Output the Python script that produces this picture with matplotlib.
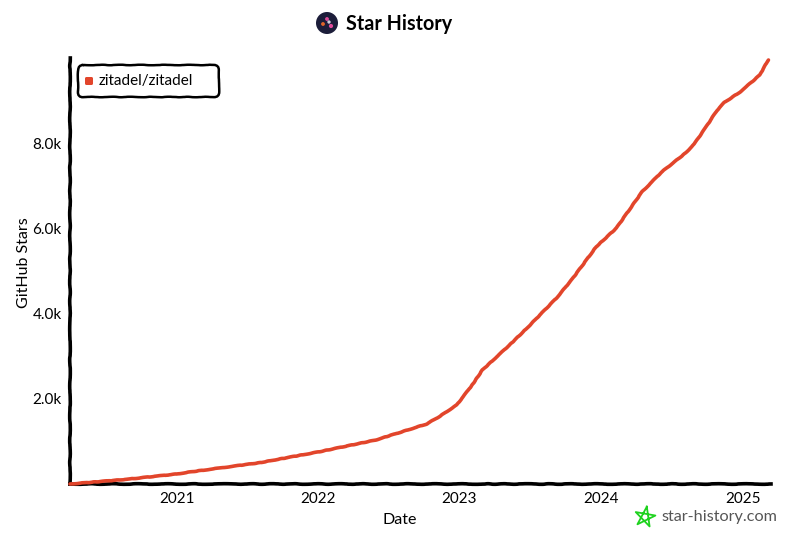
import matplotlib
matplotlib.use("Agg")
import matplotlib.pyplot as plt
import matplotlib.dates as mdates
import numpy as np
import pandas as pd
from matplotlib.patches import FancyBboxPatch, Circle

plt.rcParams['font.family'] = ['Lato', 'DejaVu Sans']

dates = ["2020-04-01", "2020-08-25", "2021-01-01", "2021-02-10", "2021-08-03", "2022-01-05",
         "2022-05-30", "2022-10-08", "2022-11-10", "2022-12-25", "2023-02-03", "2023-03-01",
         "2023-05-15", "2023-06-28", "2023-09-09", "2023-10-19", "2023-12-20", "2024-02-10",
         "2024-04-16", "2024-06-06", "2024-08-07", "2024-08-29", "2024-09-27", "2024-10-26",
         "2024-11-14", "2024-12-25", "2025-01-30", "2025-02-14", "2025-03-08"]
stars = [0, 110, 235, 290, 500, 760, 1035, 1410, 1585, 1860, 2330, 2680,
         3310, 3700, 4380, 4820, 5580, 6020, 6870, 7340, 7790, 8000, 8380, 8780,
         8970, 9220, 9500, 9620, 9975]
yticks = [2000, 4000, 6000, 8000]
ytick_labels = ["2.0k", "4.0k", "6.0k", "8.0k"]
years = ["2021", "2022", "2023", "2024", "2025"]
repo = "zitadel/zitadel"

x = pd.to_datetime(dates)

fig = plt.figure(figsize=(8, 5.33), dpi=100)
ax = fig.add_axes([70/800, 49/533, 701/800, 426/533])

line, = ax.plot(x, stars, color="#e2452b", lw=2.6, solid_capstyle="round", clip_on=False, zorder=3)
line.set_sketch_params(0.2, 18, 4)

ax.set_xlim(pd.Timestamp("2020-04-01"), pd.Timestamp("2025-03-15"))
ax.set_ylim(0, 10020)
ax.set_yticks(yticks)
ax.set_yticklabels(ytick_labels)
ax.set_xticks(pd.to_datetime([y + "-01-01" for y in years]))
ax.xaxis.set_major_formatter(mdates.DateFormatter("%Y"))
ax.tick_params(length=0, labelsize=11, pad=6, labelcolor="black")
ax.set_xlabel("Date", fontsize=11.5, labelpad=5, x=(400 - 70) / 701)
ax.set_ylabel("GitHub Stars", fontsize=11.5, labelpad=1, y=0.519)

for s in ["top", "right"]:
    ax.spines[s].set_visible(False)
for s in ["left", "bottom"]:
    ax.spines[s].set_linewidth(2.6)
    ax.spines[s].set_sketch_params(0.3, 35, 4)

# overlay in pixel coordinates
ov = fig.add_axes([0, 0, 1, 1])
ov.set_xlim(0, 800)
ov.set_ylim(533, 0)
ov.axis("off")
ov.patch.set_alpha(0)

box = FancyBboxPatch((78, 65), 141, 32, boxstyle="round,pad=0,rounding_size=5", fc="white", ec="black", lw=1.8)
box.set_sketch_params(0.25, 30, 4)
ov.add_patch(box)
ov.add_patch(FancyBboxPatch((85, 77), 8, 8, boxstyle="round,pad=0,rounding_size=1.5", fc="#e2452b", ec="none"))
ov.text(99, 81, repo, fontsize=11, va="center", ha="left")

ov.add_patch(Circle((327, 23), 11, fc="#1c1d3a", ec="none"))
ov.scatter([323, 327, 331, 329], [24, 19, 26, 22], s=[3, 3, 4, 2], c=["#e2662b", "#e04a9a", "#e04a9a", "#d0d0e0"], zorder=3)
ov.text(346, 24, "Star History", fontsize=14.2, fontweight="bold", va="center", ha="left")

# footer star, drawn as a pentagram outline
ang = np.deg2rad(-80 + 144 * np.arange(6))
ov.plot(645 + 10.5 * np.cos(ang), 517 + 10.5 * np.sin(ang), color="#1fd21f", lw=1.3)
ov.text(661, 517, "star-history.com", fontsize=11.7, color="#555555", va="center", ha="left")

fig.savefig("out.png", dpi=100)
